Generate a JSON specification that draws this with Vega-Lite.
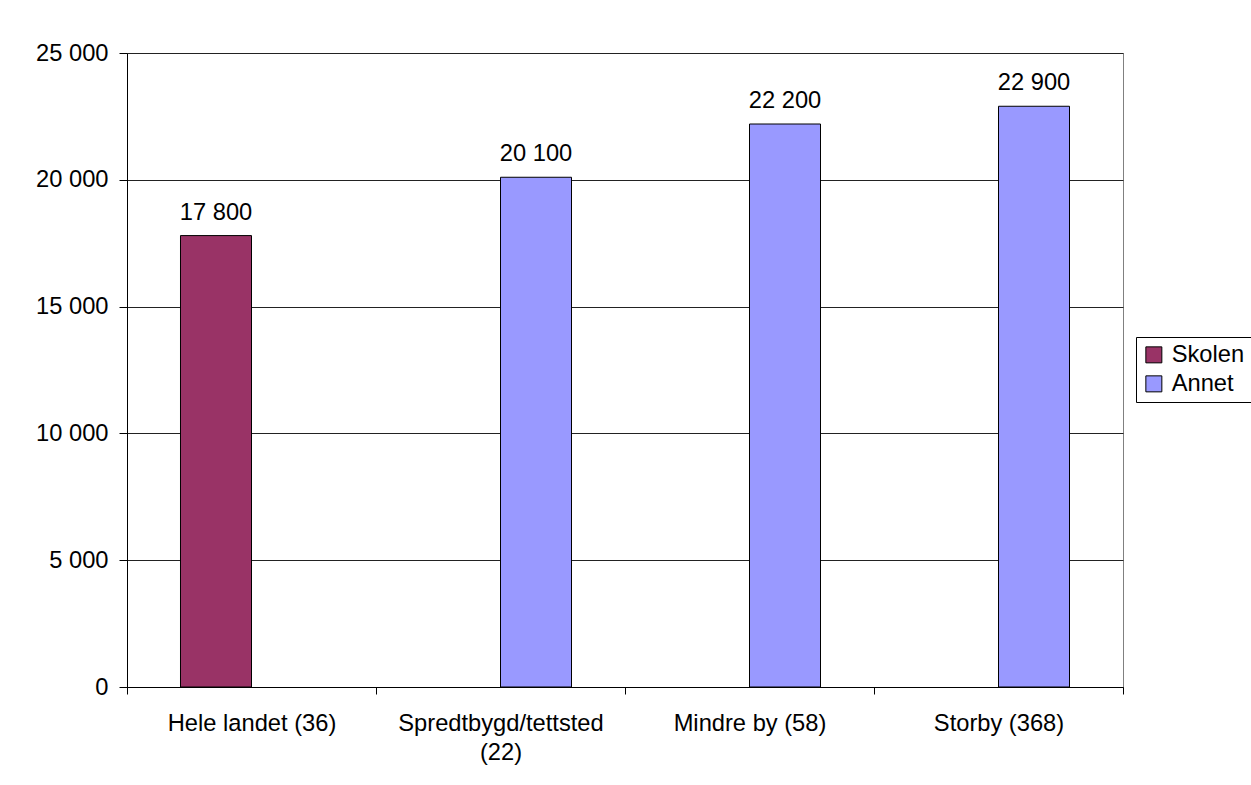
{
  "$schema": "https://vega.github.io/schema/vega-lite/v6.json",
  "width": 996,
  "height": 634,
  "autosize": {"type": "none"},
  "padding": {"left": 127, "top": 53, "right": 128, "bottom": 98},
  "background": "white",
  "config": {
    "locale": {"number": {"decimal": ",", "thousands": " ", "grouping": [3], "currency": ["", " kr"]}},
    "font": "Liberation Sans",
    "view": {"stroke": "#808080", "strokeWidth": 1},
    "axis": {"labelFont": "Liberation Sans", "labelFontSize": 23.7, "labelColor": "#000000"},
    "legend": {"labelFont": "Liberation Sans", "labelFontSize": 23.7, "labelColor": "#000000"}
  },
  "data": {
    "values": [
      {"kategori": "Hele landet (36)", "serie": "Skolen", "verdi": 17800},
      {"kategori": "Spredtbygd/tettsted (22)", "serie": "Annet", "verdi": 20100},
      {"kategori": "Mindre by (58)", "serie": "Annet", "verdi": 22200},
      {"kategori": "Storby (368)", "serie": "Annet", "verdi": 22900}
    ]
  },
  "encoding": {
    "x": {
      "field": "kategori",
      "type": "nominal",
      "sort": ["Hele landet (36)", "Spredtbygd/tettsted (22)", "Mindre by (58)", "Storby (368)"],
      "scale": {"paddingInner": 0, "paddingOuter": 0},
      "axis": {
        "title": null,
        "labelAngle": 0,
        "labelLimit": 0,
        "tickBand": "extent",
        "tickSize": 7,
        "tickColor": "#000000",
        "domainColor": "#000000",
        "labelPadding": 17,
        "labelBaseline": "top",
        "labelLineHeight": 29,
        "labelExpr": "datum.label == 'Spredtbygd/tettsted (22)' ? ['Spredtbygd/tettsted', '(22)'] : datum.label"
      }
    },
    "xOffset": {
      "field": "serie",
      "type": "nominal",
      "scale": {"domain": ["Skolen", "Annet"], "paddingInner": 0, "paddingOuter": 0.7535}
    },
    "y": {
      "field": "verdi",
      "type": "quantitative",
      "scale": {"domain": [0, 25000], "nice": false},
      "axis": {
        "title": null,
        "values": [0, 5000, 10000, 15000, 20000, 25000],
        "format": ",d",
        "grid": true,
        "gridColor": "#222222",
        "gridOpacity": 1,
        "tickSize": 8,
        "tickColor": "#000000",
        "domainColor": "#000000",
        "labelPadding": 11
      }
    }
  },
  "layer": [
    {
      "mark": {"type": "bar", "stroke": "#000000", "strokeWidth": 1},
      "encoding": {
        "color": {
          "field": "serie",
          "type": "nominal",
          "scale": {"domain": ["Skolen", "Annet"], "range": ["#993366", "#9999FF"]},
          "legend": {
            "title": null,
            "orient": "none",
            "legendX": 1009,
            "legendY": 284,
            "symbolType": "square",
            "symbolSize": 256,
            "symbolStrokeColor": "#000000",
            "symbolStrokeWidth": 1,
            "symbolOpacity": 1,
            "labelOffset": 6,
            "rowPadding": 4,
            "padding": 6,
            "strokeColor": "#000000",
            "fillColor": "white"
          }
        }
      }
    },
    {
      "mark": {"type": "text", "baseline": "alphabetic", "dy": -16, "fontSize": 23.7, "color": "#000000", "font": "Liberation Sans"},
      "encoding": {
        "text": {"field": "verdi", "type": "quantitative", "format": ",d"}
      }
    }
  ]
}
